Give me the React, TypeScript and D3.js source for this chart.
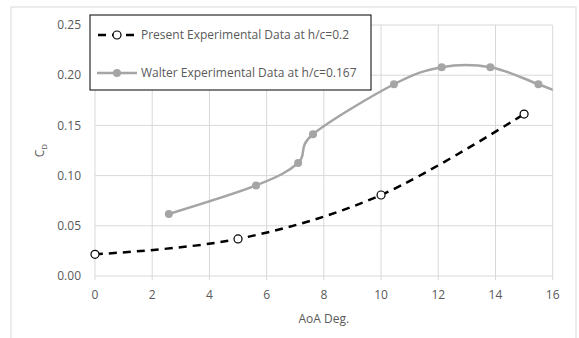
import React from "react";
import * as d3 from "d3";

const presentAoA = [0, 5, 10, 15];
const presentCd = [0.0216, 0.0369, 0.0807, 0.1613];
const walterAoA = [2.58, 5.63, 7.1, 7.62, 10.45, 12.12, 13.82, 15.5, 17.2];
const walterCd = [0.0618, 0.0902, 0.1125, 0.1412, 0.191, 0.208, 0.208, 0.191, 0.172];
const xTicks = [0, 2, 4, 6, 8, 10, 12, 14, 16];
const yTicks = [0, 0.05, 0.1, 0.15, 0.2, 0.25];
const legendLabels = [
  "Present Experimental Data at h/c=0.2",
  "Walter Experimental Data at h/c=0.167",
];

const W = 579;
const H = 338;
const L = 95, R = 552.7, T = 25, B = 276;
const FONT = "'Open Sans', sans-serif";
const FS = 12;

export default function App() {
  const x = d3.scaleLinear().domain([0, 16]).range([L, R]);
  const y = d3.scaleLinear().domain([0, 0.25]).range([B, T]);
  const line = d3
    .line<[number, number]>()
    .x((d) => x(d[0]))
    .y((d) => y(d[1]))
    .curve(d3.curveCardinal.tension(0));
  const present = presentAoA.map((a, i) => [a, presentCd[i]] as [number, number]);
  const walter = walterAoA.map((a, i) => [a, walterCd[i]] as [number, number]);
  const grid = "#d9d9d9";
  const txt = "#595959";
  return (
    <svg
      width={W}
      height={H}
      style={{ position: "absolute", left: 0, top: 0, background: "#fff" }}
    >
      <defs>
        <clipPath id="plot">
          <rect x={L} y={T - 10} width={R - L} height={B - T + 20} />
        </clipPath>
      </defs>
      <rect x={11} y={7} width={565} height={340} fill="#fff" stroke={grid} strokeWidth={1} />
      {xTicks.map((t) => (
        <line key={"gx" + t} x1={x(t)} x2={x(t)} y1={T} y2={B + 4} stroke={grid} strokeWidth={1} />
      ))}
      {yTicks.map((t) => (
        <line key={"gy" + t} x1={L} x2={R} y1={y(t)} y2={y(t)} stroke={grid} strokeWidth={1} />
      ))}
      {yTicks.map((t) => (
        <text key={"ty" + t} x={81} y={y(t)} dy="0.35em" textAnchor="end" fontSize={FS} fontFamily={FONT} fill={txt}>
          {t.toFixed(2)}
        </text>
      ))}
      {xTicks.map((t) => (
        <text key={"tx" + t} x={x(t)} y={295} dy="0.35em" textAnchor="middle" fontSize={FS} fontFamily={FONT} fill={txt}>
          {t}
        </text>
      ))}
      <text x={(L + R) / 2} y={319} dy="0.35em" textAnchor="middle" fontSize={FS} fontFamily={FONT} fill={txt}>
        AoA Deg.
      </text>
      <text transform={`translate(44,${(T + B) / 2}) rotate(-90)`} textAnchor="middle" fontSize={FS} fontFamily={FONT} fill={txt}>
        C<tspan fontSize={8} dy={3}>D</tspan>
      </text>
      <g clipPath="url(#plot)">
        <path d={line(walter) || ""} fill="none" stroke="#a5a5a5" strokeWidth={2.5} />
        {walter.map((d, i) => (
          <circle key={"w" + i} cx={x(d[0])} cy={y(d[1])} r={4} fill="#a5a5a5" />
        ))}
      </g>
      <path d={line(present) || ""} fill="none" stroke="#000" strokeWidth={2.5} strokeDasharray="8 6" />
      {present.map((d, i) => (
        <circle key={"p" + i} cx={x(d[0])} cy={y(d[1])} r={4} fill="#fff" stroke="#000" strokeWidth={1.2} />
      ))}
      <g>
        <rect x={90} y={15} width={281} height={75} fill="#fff" stroke="#000" strokeWidth={1} />
        <line x1={97} x2={137} y1={35} y2={35} stroke="#000" strokeWidth={2.5} strokeDasharray="8 6" strokeDashoffset={-1} />
        <circle cx={117} cy={35} r={4} fill="#fff" stroke="#000" strokeWidth={1.2} />
        <text x={141} y={35} dy="0.35em" fontSize={FS} fontFamily={FONT} fill={txt}>
          {legendLabels[0]}
        </text>
        <line x1={97} x2={137} y1={73} y2={73} stroke="#a5a5a5" strokeWidth={2.5} />
        <circle cx={117} cy={73} r={4} fill="#a5a5a5" />
        <text x={141} y={73} dy="0.35em" fontSize={FS} fontFamily={FONT} fill={txt}>
          {legendLabels[1]}
        </text>
      </g>
    </svg>
  );
}
